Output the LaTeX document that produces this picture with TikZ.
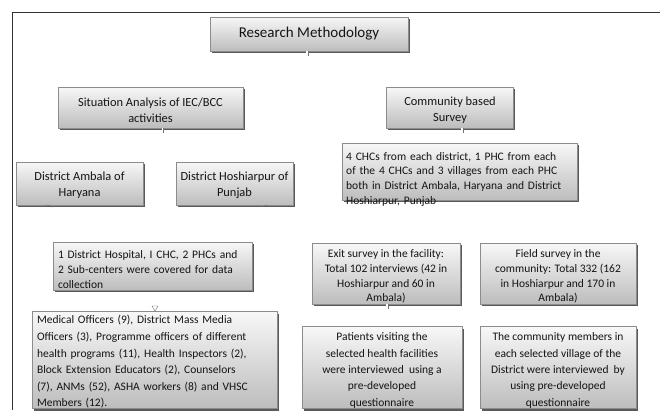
\documentclass[tikz,border=0pt]{standalone}
\usepackage{fontspec}
\setmainfont{Carlito}
\usetikzlibrary{shadows}
\newcommand\jl[1]{\makebox[\linewidth][s]{#1}}
\begin{document}
\begin{tikzpicture}[x=1pt,y=-1pt,
  box/.style={draw=black!45, line width=0.5pt, top color=black!3, bottom color=black!26,
    drop shadow={shadow xshift=1.6pt, shadow yshift=-2.4pt, fill=black!65, opacity=1},
    inner sep=0pt, outer sep=0pt},
  txt/.style={font=\fontsize{11.3}{15.5}\selectfont, text=black!92, inner sep=0pt},
  up/.style={txt, align=center, font=\fontsize{12.4}{16}\selectfont},
  stub/.style={draw=black!55, line width=0.5pt},
  gap/.style={draw=white, line width=1.6pt}]
\useasboundingbox (0,0) rectangle (660,410);
\fill[white] (0,0) rectangle (660,410);
% frame
\draw[black!80, line width=1pt] (12,410) -- (12,12) -- (660,12);

% boxes
\node[box, minimum width=198, minimum height=34] (rm) at (309,34) {};
\node[txt, font=\fontsize{15}{18}\selectfont] (rmt) at ([yshift=0.5pt]rm.center) {Research Methodology};

\node[box, minimum width=185, minimum height=41] (sit) at (150.5,107.5) {};
\node[up] (sitt) at ([yshift=-2.5pt]sit.center) {Situation Analysis of IEC/BCC\\activities};

\node[box, minimum width=127, minimum height=41] (com) at (450,107.5) {};
\node[up] (comt) at ([yshift=-2.5pt]com.center) {Community based\\Survey};

\node[box, minimum width=127, minimum height=43] (amb) at (79.5,183.5) {};
\node[up] (ambt) at ([yshift=-2pt]amb.center) {District Ambala of\\Haryana};

\node[box, minimum width=117, minimum height=43] (hosh) at (234.5,183.5) {};
\node[up] (hosht) at ([yshift=-2pt]hosh.center) {District Hoshiarpur of\\Punjab};

\node[box, minimum width=235, minimum height=57] (chc) at (459.5,171.5) {};
\node[txt, anchor=north west, text width=227, align=left, font=\fontsize{11.5}{14.7}\selectfont] (chct) at ([xshift=4pt,yshift=-9pt]chc.north west)
 {\jl{4 CHCs from each district, 1 PHC from each}\\
  \jl{of the 4 CHCs and 3 villages from each PHC}\\
  \jl{both in District Ambala, Haryana and District}\\
  Hoshiarpur, Punjab};

\node[box, minimum width=199, minimum height=48] (hosp) at (152.5,266) {};
\node[txt, text width=189, align=left, font=\fontsize{11.5}{15}\selectfont] (hospt) at ([yshift=-3.5pt]hosp.center)
 {\jl{1 District Hospital, I CHC, 2 PHCs and}\\
  \jl{2 Sub-centers were covered for data}\\
  collection};

\node[box, minimum width=148, minimum height=61] (exit) at (386,273.5) {};
\node[txt, align=center, font=\fontsize{11.5}{14.7}\selectfont] (exitt) at ([yshift=-3pt]exit.center)
 {Exit survey in the facility:\\Total 102 interviews (42 in\\Hoshiarpur and 60 in\\Ambala)};

\node[box, minimum width=156, minimum height=61] (field) at (558,273.5) {};
\node[txt, align=center, font=\fontsize{11.5}{14.7}\selectfont] (fieldt) at ([yshift=-3pt]field.center)
 {Field survey in the\\community: Total 332 (162\\in Hoshiarpur and 170 in\\Ambala)};

\node[box, minimum width=245, minimum height=97] (med) at (154.5,360) {};
\node[txt, text width=235, align=left, font=\fontsize{11.5}{16.6}\selectfont] (medt) at ([yshift=-2pt]med.center)
 {\jl{Medical Officers (9), District Mass Media}\\
  \jl{Officers (3), Programme officers of different}\\
  \jl{health programs (11), Health Inspectors (2),}\\
  \jl{Block Extension Educators (2), Counselors}\\
  \jl{(7), ANMs (52), ASHA workers (8) and VHSC}\\
  Members (12).};

\node[box, minimum width=160, minimum height=82] (pat) at (382,367.5) {};
\node[txt, align=center, font=\fontsize{11.5}{16.3}\selectfont] (patt) at ([yshift=-3pt]pat.center)
 {Patients visiting the\\selected health facilities\\were interviewed\ \ using a\\pre-developed\\questionnaire};

\node[box, minimum width=156, minimum height=82] (cm) at (558,367.5) {};
\node[txt, align=center, font=\fontsize{11.5}{16.3}\selectfont] (cmt) at ([yshift=-3pt]cm.center)
 {The community members in\\each selected village of the\\District were interviewed\ \ by\\using pre-developed\\questionnaire};

% connector stubs
\foreach \n/\dx in {rm/-2, sit/12, com/12, exit/1}{
  \draw[gap] ([xshift=\dx pt]\n.south) -- ++(0,3);
  \draw[stub] ([xshift=\dx pt+1.2pt]\n.south) -- ++(0,5);
}
\draw[stub] ([xshift=-34pt]amb.south) -- ++(6,0.8) -- ++(0,1.5);
\draw[stub] ([xshift=33pt]hosh.south) -- ++(-5,1.5);
\draw[black!55, line width=0.4pt] (152,306) -- (158,306) -- (155,311) -- cycle;
\end{tikzpicture}
\end{document}
